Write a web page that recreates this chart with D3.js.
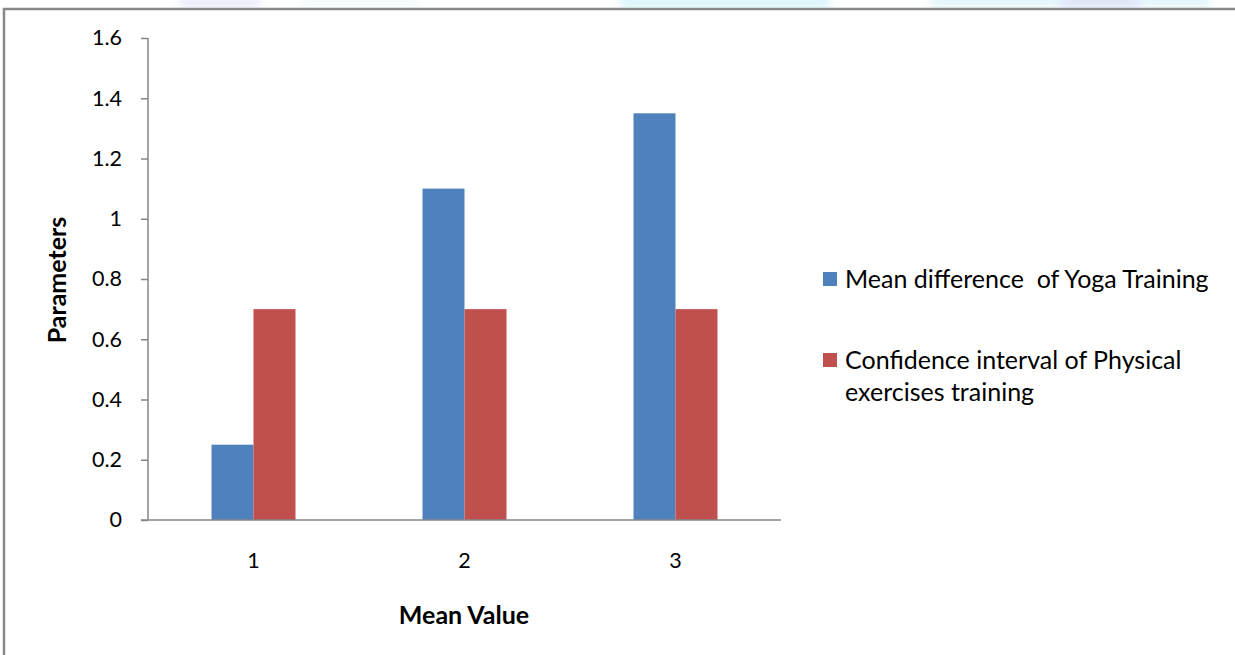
<!DOCTYPE html>
<html><head><meta charset="utf-8">
<script src="https://cdn.jsdelivr.net/npm/d3@7"></script>
<style>
html,body{margin:0;padding:0;background:#fff;}
svg{display:block;font-family:Lato,"Open Sans",sans-serif;}
</style></head>
<body>
<svg id="chart" width="1235" height="655"></svg>
<script>
const categories = ["1", "2", "3"];
const seriesNames = ["Mean difference  of Yoga Training", "Confidence interval of Physical exercises training"];
const yogaValues = [0.25, 1.1, 1.35];
const physicalValues = [0.7, 0.7, 0.7];
const yTicks = [0, 0.2, 0.4, 0.6, 0.8, 1, 1.2, 1.4, 1.6];
const colors = ["#4F81BD", "#C0504D"];

const svg = d3.select("#chart");

// faint watermark strip above frame
const defs = svg.append("defs");
defs.append("filter").attr("id","blur").append("feGaussianBlur").attr("stdDeviation",4);
const wm = [[180,260,"#e4e4fb"],[300,420,"#eef9fb"],[620,830,"#c9f1f9"],[930,1210,"#d8f2fb"],[1060,1140,"#dcdcf6"]];
const wg = svg.append("g").attr("filter","url(#blur)");
wm.forEach(([a,b,c])=>wg.append("rect").attr("x",a).attr("y",-6).attr("width",b-a).attr("height",14).attr("fill",c).attr("opacity",0.7));
svg.append("rect").attr("x",0).attr("y",9).attr("width",1235).attr("height",646).attr("fill","#fff");

// frame
svg.append("path").attr("d","M4,655 V9 H1235").attr("fill","none").attr("stroke","#888").attr("stroke-width",2.5);

const x = d3.scaleBand().domain(categories).range([148, 781]).padding(0);
const y = d3.scaleLinear().domain([0, 1.6]).range([520, 38]);
const barW = 42;

const yAxis = svg.append("g").attr("transform","translate(148,0)")
  .call(d3.axisLeft(y).tickValues(yTicks).tickSize(7).tickPadding(19).tickFormat(d=>String(d)));
yAxis.select(".domain").attr("stroke","#868686").attr("stroke-width",1.5).attr("d","M0,38V520");
yAxis.selectAll(".tick line").attr("stroke","#868686").attr("stroke-width",1.5);
yAxis.selectAll(".tick text").attr("font-size",21.5).attr("fill","#000").attr("font-family","Lato");

const data = [yogaValues, physicalValues];
data.forEach((vals, si) => {
  svg.append("g").selectAll("rect").data(categories).join("rect")
    .attr("x", (c) => x(c) + x.bandwidth()/2 - barW + si*barW)
    .attr("width", barW)
    .attr("y", (c,i) => y(vals[i]))
    .attr("height", (c,i) => y(0) - y(vals[i]))
    .attr("fill", colors[si]);
});

const xAxis = svg.append("g").attr("transform","translate(0,520)")
  .call(d3.axisBottom(x).tickSize(0).tickPadding(33));
xAxis.select(".domain").attr("stroke","#868686").attr("stroke-width",1.5).attr("d","M141,0H781");
xAxis.selectAll(".tick text").attr("font-size",21.5).attr("fill","#000").attr("font-family","Lato");

svg.append("text").attr("x",464).attr("y",624).attr("text-anchor","middle")
  .attr("font-weight","bold").attr("font-size",25).text("Mean Value");
svg.append("text").attr("transform","translate(66,280) rotate(-90)").attr("text-anchor","middle")
  .attr("font-weight","bold").attr("font-size",25).text("Parameters");

// legend
const lg = svg.append("g");
lg.append("rect").attr("x",823).attr("y",272).attr("width",14).attr("height",14).attr("fill",colors[0]);
lg.append("text").attr("x",845).attr("y",288).attr("font-size",25).attr("xml:space","preserve")
  .style("white-space","pre").text(seriesNames[0]);
lg.append("rect").attr("x",823).attr("y",353).attr("width",14).attr("height",14).attr("fill",colors[1]);
lg.append("text").attr("x",845).attr("y",369).attr("font-size",25).text("Confidence interval of Physical");
lg.append("text").attr("x",845).attr("y",401).attr("font-size",25).text("exercises training");
</script>
</body></html>
